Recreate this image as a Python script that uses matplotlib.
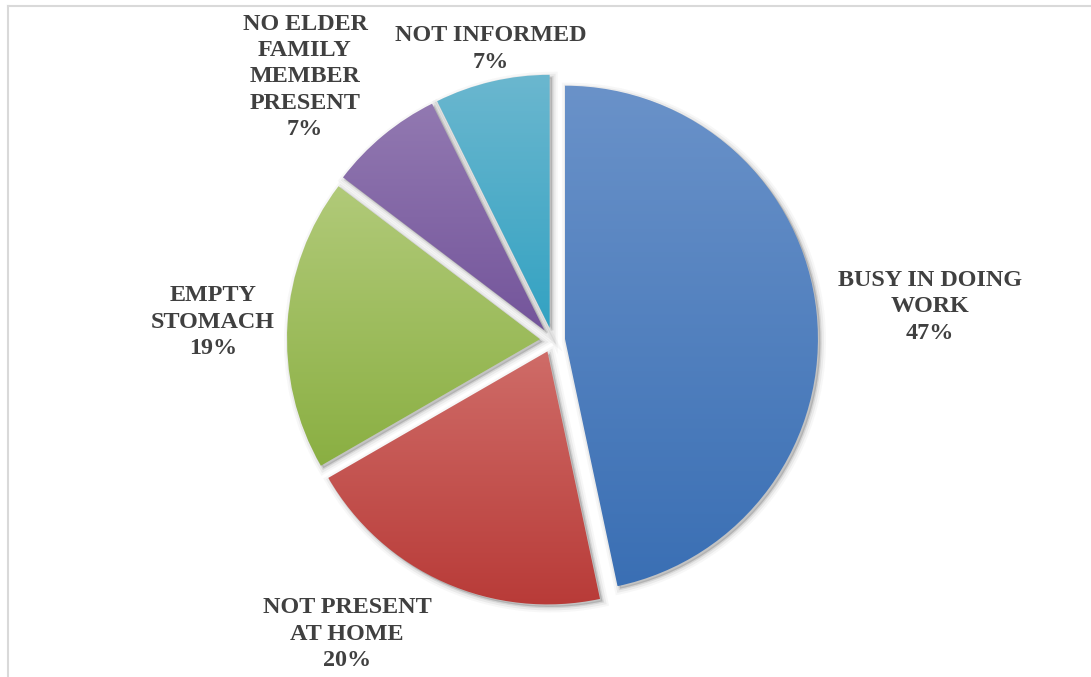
import numpy as np
import matplotlib.pyplot as plt
from matplotlib.colors import LinearSegmentedColormap
from matplotlib.lines import Line2D

# Данные (количество ответов)
categories = ['BUSY IN DOING\nWORK', 'NOT PRESENT\nAT HOME', 'EMPTY\nSTOMACH',
              'NO ELDER\nFAMILY\nMEMBER\nPRESENT', 'NOT INFORMED']
values = [70, 30, 28, 11, 11]

# Цвета: верх / низ градиента
top_colors = ['#6a92c9', '#cf6c68', '#b1ca79', '#9279b1', '#6bb7cf']
bottom_colors = ['#3a6fb4', '#b83a37', '#8aaf42', '#74559b', '#33a2c2']

# Положения подписей (пиксели изображения, y вниз)
label_pos = [(930, 307), (347, 634), (213, 322), (305, 77), (491, 49)]

W, H = 1091, 677
center = (552.5, H - 340)
radius = 253
gap = 12.5

fig = plt.figure(figsize=(W / 100, H / 100), dpi=100)
ax = fig.add_axes([0, 0, 1, 1])
ax.axis('off')

# Рамка (видна только сверху и слева)
fig.add_artist(Line2D([8 / W, 1.0], [1 - 6 / H, 1 - 6 / H], color='#d9d9d9', lw=1.5))
fig.add_artist(Line2D([8 / W, 8 / W], [1 - 6 / H, 0.0], color='#d9d9d9', lw=1.5))

explode = [gap] * len(values)

# Мягкая тень, смещённая вниз-вправо
for lw, a in [(8, 0.04), (5, 0.07), (2, 0.12)]:
    ax.pie(values, explode=explode, center=(center[0] + 2.5, center[1] - 2.5),
           radius=radius, startangle=90, counterclock=False,
           wedgeprops=dict(facecolor=(0.25, 0.25, 0.25, a),
                           edgecolor=(0.25, 0.25, 0.25, a), linewidth=lw))

wedges, _ = ax.pie(values, explode=explode, center=center, radius=radius,
                   startangle=90, counterclock=False,
                   wedgeprops=dict(linewidth=0, facecolor='none'))

# Градиентная заливка каждого сектора
grad = np.linspace(0, 1, 256).reshape(-1, 1)
for w, c_top, c_bot in zip(wedges, top_colors, bottom_colors):
    verts = w.get_path().vertices
    x0, x1 = verts[:, 0].min(), verts[:, 0].max()
    y0, y1 = verts[:, 1].min(), verts[:, 1].max()
    cmap = LinearSegmentedColormap.from_list('g', [c_bot, c_top])
    im = ax.imshow(grad, cmap=cmap, extent=[x0, x1, y0, y1], origin='lower',
                   aspect='auto', zorder=2, interpolation='bilinear')
    im.set_clip_path(w)

total = sum(values)
for text, v, (px, py) in zip(categories, values, label_pos):
    pct = round(100 * v / total)
    ax.text(px, H - py, f'{text}\n{pct}%', ha='center', va='center',
            fontsize=17.4, fontweight='bold', family='Liberation Serif',
            color='#404040', linespacing=1.32, zorder=5)

ax.set_xlim(0, W)
ax.set_ylim(0, H)
ax.set_aspect('equal')
fig.savefig('out.png', dpi=100, facecolor='white')
